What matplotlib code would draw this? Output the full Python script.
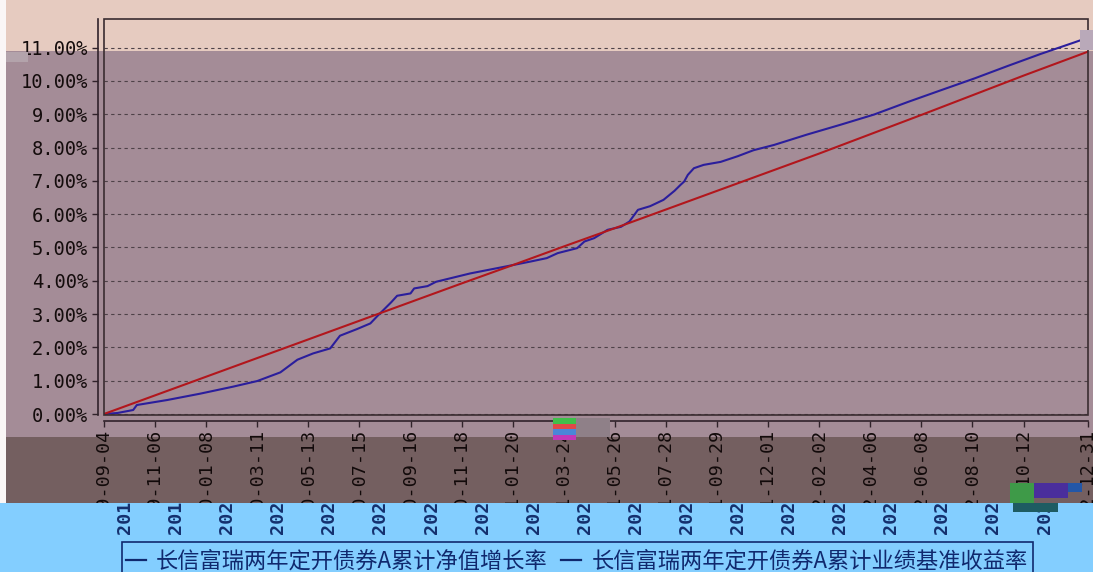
import matplotlib
matplotlib.use('Agg')
import matplotlib.pyplot as plt
import matplotlib.transforms as mtransforms
from matplotlib.patches import Rectangle
from matplotlib.ticker import FuncFormatter, MultipleLocator
from matplotlib.font_manager import FontProperties

# ---------------- data ----------------
tick_idx = [0, 42, 84, 126, 168, 210, 252, 294, 336, 378, 420, 462, 504,
            546, 588, 630, 672, 714, 756, 809]
tick_labels = ['2019-09-04', '2019-11-06', '2020-01-08', '2020-03-11',
               '2020-05-13', '2020-07-15', '2020-09-16', '2020-11-18',
               '2021-01-20', '2021-03-24', '2021-05-26', '2021-07-28',
               '2021-09-29', '2021-12-01', '2022-02-02', '2022-04-06',
               '2022-06-08', '2022-08-10', '2022-10-12', '2022-12-31']

# benchmark cumulative return (%) read at the tick positions
bench_idx = tick_idx
bench_val = [0.00, 0.56, 1.12, 1.68, 2.24, 2.80, 3.36, 3.92, 4.47, 5.03,
             5.58, 6.14, 6.70, 7.26, 7.82, 8.40, 8.98, 9.57, 10.16, 10.88]

# fund cumulative NAV growth (%)
nav_idx = [0, 11, 24, 27, 52, 79, 106, 126, 145, 159, 172, 186, 194, 208,
           219, 225, 236, 241, 252, 255, 266, 273, 301, 329, 351, 364, 373,
           389, 395, 403, 414, 425, 432, 439, 449, 460, 469, 474, 477, 480,
           485, 493, 507, 521, 534, 551, 578, 606, 633, 661, 688, 716, 743,
           770, 798, 809]
nav_val = [0.00, 0.03, 0.12, 0.27, 0.42, 0.61, 0.82, 0.99, 1.25, 1.63, 1.82,
           1.97, 2.35, 2.55, 2.72, 2.95, 3.35, 3.55, 3.62, 3.77, 3.84, 3.97,
           4.22, 4.42, 4.58, 4.68, 4.83, 4.98, 5.18, 5.28, 5.53, 5.62, 5.78,
           6.13, 6.24, 6.43, 6.70, 6.88, 6.98, 7.18, 7.38, 7.48, 7.57, 7.74,
           7.92, 8.08, 8.39, 8.69, 8.99, 9.37, 9.72, 10.08, 10.45, 10.81,
           11.16, 11.30]

series_names = ['长信富瑞两年定开债券A累计净值增长率',
                '长信富瑞两年定开债券A累计业绩基准收益率']

# ---------------- figure ----------------
W, H, DPI = 1093, 572, 100
fig = plt.figure(figsize=(W / DPI, H / DPI), dpi=DPI)
fig.patch.set_facecolor('white')


def fy(px):
    return 1 - px / H


def fx(px):
    return px / W


def band(x0, y0, x1, y1, color, z=-10):
    r = Rectangle((fx(x0), fy(y1)), fx(x1) - fx(x0), fy(y0) - fy(y1),
                  transform=fig.transFigure, facecolor=color, edgecolor='none',
                  zorder=z)
    fig.add_artist(r)
    return r


# colour bands of the screenshot
band(0, 0, W, 51, '#E6CBC0')
band(0, 51, W, 437, '#A48C97')
band(0, 437, W, 503, '#745F60')
band(0, 0, 6, 503, '#FAF6F6', z=-9)
blue_rect = band(0, 503, W, H, '#83CEFF', z=1)

# axes (plot box)
ax = fig.add_axes([fx(104), fy(415), fx(1088) - fx(104), fy(19) - fy(415)])
ax.set_facecolor('none')
ax.set_xlim(0, 809)
ax.set_ylim(-0.03, 11.86)

ax.plot(nav_idx, nav_val, color='#2B1E9C', lw=1.5, label=series_names[0],
        zorder=3)
ax.plot(bench_idx, bench_val, color='#B2161C', lw=1.5,
        label=series_names[1], zorder=3)

ax.yaxis.set_major_locator(MultipleLocator(1))
ax.yaxis.set_major_formatter(FuncFormatter(lambda v, p: f'{v:.2f}%'))
ax.yaxis.grid(True, linestyle=(0, (3, 3)), color='#4E4248', lw=0.8)
ax.set_axisbelow(True)

dark = '#30222A'
for s in ['top', 'right']:
    ax.spines[s].set_visible(False)
ax.spines['left'].set_position(('outward', 4.32))
ax.spines['bottom'].set_position(('outward', 4.32))
ax.spines['left'].set_color(dark)
ax.spines['bottom'].set_color(dark)
ax.spines['left'].set_linewidth(1.2)
ax.spines['bottom'].set_linewidth(1.2)
ax.add_patch(Rectangle((0, 0), 1, 1, transform=ax.transAxes, fill=False,
                       edgecolor='#3A2C30', lw=1.2, clip_on=False, zorder=4))

ax.set_xticks(tick_idx)
ax.set_xticklabels(tick_labels, rotation=90, family='DejaVu Sans Mono',
                   fontsize=13.2, color='#120A0A')
for lab in ax.get_yticklabels():
    lab.set_family('DejaVu Sans Mono')
ax.tick_params(axis='y', length=4.32, width=1, color=dark, pad=3,
               labelsize=13.5, labelcolor='#140C0C')
ax.tick_params(axis='x', length=4.32, width=1, color=dark, pad=1.0)

# shifted copies of the tick labels inside the blue strip
off = mtransforms.ScaledTranslation(21 / DPI, 0, fig.dpi_scale_trans)
trans = mtransforms.blended_transform_factory(ax.transData + off,
                                              fig.transFigure)
for i, lab in zip(tick_idx, tick_labels):
    t = fig.text(i, fy(423), lab, transform=trans, rotation=90, ha='center',
                 va='top', family='DejaVu Sans Mono', fontsize=13.2,
                 fontweight='bold', color='#14306E', zorder=2)
    t.set_clip_path(blue_rect)

# small glitch patches
for (x0, y0, x1, y1, c) in [(553, 418, 576, 424, '#3FBF4A'),
                            (553, 424, 576, 429, '#E04848'),
                            (553, 429, 576, 435, '#4A86D8'),
                            (553, 435, 576, 440, '#C038B8'),
                            (576, 418, 610, 437, '#8F8088'),
                            (1010, 483, 1034, 503, '#3E9A48'),
                            (1034, 483, 1068, 498, '#4A2E9C'),
                            (1068, 483, 1082, 492, '#2357A8'),
                            (1013, 503, 1058, 512, '#1E5C62'),
                            (1080, 30, W, 50, '#B9A9B9'),
                            (6, 52, 28, 62, '#B3A3AB')]:
    band(x0, y0, x1, y1, c, z=6)

# legend (frame drawn separately, running off the bottom edge)
navy = '#10296E'
leg = fig.legend(loc='upper left', bbox_to_anchor=(fx(124), fy(547.5)),
                 ncol=2, frameon=False,
                 prop=FontProperties(family=['Noto Sans CJK SC', 'DejaVu Sans'],
                                     size=16),
                 handlelength=0.9, handletextpad=0.45, columnspacing=0.6,
                 borderpad=0.1, borderaxespad=0)
for ln in leg.get_lines():
    ln.set_color(navy)
    ln.set_linewidth(1.6)
for tx in leg.get_texts():
    tx.set_color(navy)
leg.set_zorder(7)
fig.add_artist(Rectangle((fx(122), fy(590)), fx(1033) - fx(122),
                         fy(541.5) - fy(590), transform=fig.transFigure,
                         fill=False, edgecolor=navy, lw=1.2, zorder=7))

fig.savefig('out.png', dpi=DPI)
